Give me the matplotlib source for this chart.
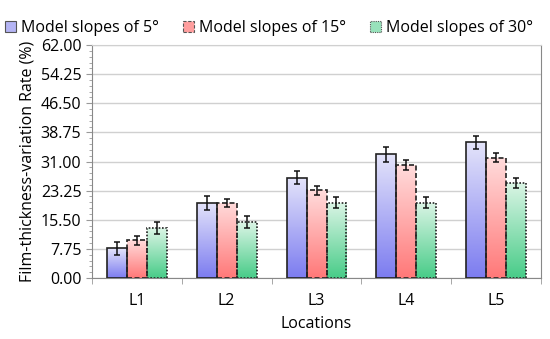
import numpy as np
import matplotlib.pyplot as plt
from matplotlib.patches import Rectangle
from matplotlib.colors import LinearSegmentedColormap
from matplotlib.ticker import MultipleLocator

plt.rcParams["font.family"] = ["Open Sans", "DejaVu Sans"]

locations = ["L1", "L2", "L3", "L4", "L5"]
series = ["Model slopes of 5°", "Model slopes of 15°", "Model slopes of 30°"]
slope5 = [7.9, 20.0, 26.7, 32.9, 36.1]
slope15 = [10.0, 20.0, 23.4, 30.0, 32.0]
slope30 = [13.3, 14.8, 20.0, 20.0, 25.3]
err5 = [1.8, 1.8, 1.8, 1.9, 1.7]
err15 = [1.2, 1.0, 1.2, 1.3, 1.2]
err30 = [1.5, 1.6, 1.5, 1.5, 1.4]

values = [slope5, slope15, slope30]
errors = [err5, err15, err30]
grads = [("#e4e4fa", "#7c7cf0"), ("#ffdcdc", "#ff7878"), ("#dcf5e6", "#48cc88")]
legend_fill = ["#b4b4f4", "#ff9e9e", "#98e2bb"]
styles = ["solid", (0, (3, 1.5)), (0, (1, 1))]

fig = plt.figure(figsize=(5.5, 3.39), dpi=100)
ax = fig.add_axes([0.167, 0.18, 0.817, 0.687])

x = np.arange(len(locations))
width = 0.222
grad = np.linspace(1, 0, 256).reshape(-1, 1)

for i, (vals, errs) in enumerate(zip(values, errors)):
    cmap = LinearSegmentedColormap.from_list(f"g{i}", [grads[i][1], grads[i][0]])
    pos = x + (i - 1) * width
    for xp, v, e in zip(pos, vals, errs):
        rect = Rectangle((xp - width / 2, 0), width, v, facecolor="none",
                         edgecolor="#222222", linewidth=1.2, linestyle=styles[i], zorder=3)
        ax.add_patch(rect)
        im = ax.imshow(grad, cmap=cmap, aspect="auto", vmin=0, vmax=1,
                       extent=[xp - width / 2, xp + width / 2, 0, v], zorder=2)
        im.set_clip_path(rect)
        ax.errorbar(xp, v, yerr=e, fmt="none", ecolor="#111111", elinewidth=1.1,
                    capsize=2.5, capthick=1.1, zorder=4)
    ax.add_patch(Rectangle((0, 0), 0, 0, facecolor=legend_fill[i], edgecolor="#555555",
                           linewidth=0.8, linestyle=styles[i], label=series[i]))

ax.set_xlim(-0.5, 4.5)
ax.set_ylim(0, 62)
ax.set_yticks(np.arange(0, 62.01, 7.75))
ax.set_yticklabels([f"{t:.2f}" for t in np.arange(0, 62.01, 7.75)])
ax.yaxis.set_minor_locator(MultipleLocator(1.55))
ax.set_xticks(x)
ax.set_xticklabels(locations)
ax.set_xticks(np.arange(-0.5, 4.6, 0.5), minor=True)
ax.tick_params(axis="x", which="major", length=0, labelsize=11.5, pad=11)
ax.tick_params(axis="x", which="minor", length=4, color="#999999")
ax.tick_params(axis="y", which="major", length=4, labelsize=11.5, color="#999999")
ax.tick_params(axis="y", which="minor", length=2, color="#999999")
ax.grid(axis="y", color="#d0d0d0", linewidth=1, zorder=0)
ax.set_axisbelow(True)
for s in ax.spines.values():
    s.set_color("#888888")
ax.spines["top"].set_color("#d0d0d0")

ax.set_xlabel("Locations", fontsize=11.5, labelpad=5)
ax.set_ylabel("Film-thickness-variation Rate (%)", fontsize=11.5, labelpad=4)

ax.legend(loc="lower center", bbox_to_anchor=(0.395, 1.0), ncol=3, frameon=False,
          fontsize=11.5, handlelength=0.65, handleheight=0.65, handletextpad=0.35,
          columnspacing=1.5, borderaxespad=0.15)

fig.savefig("out.png", dpi=100)
